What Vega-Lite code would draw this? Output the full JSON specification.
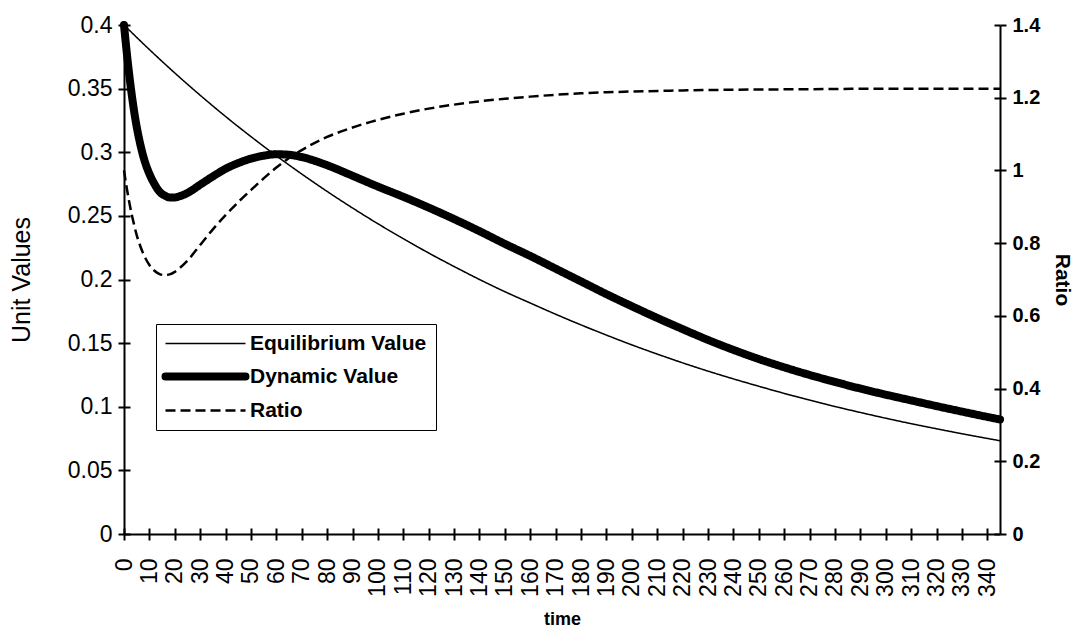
{
  "$schema": "https://vega.github.io/schema/vega-lite/v6.json",
  "width": 876,
  "height": 509,
  "autosize": {"type": "none"},
  "padding": {"left": 124, "top": 25, "right": 82, "bottom": 98},
  "background": "white",
  "config": {
    "view": {"stroke": null},
    "font": "Liberation Sans",
    "axis": {
      "domainColor": "black", "domainWidth": 2, "tickColor": "black", "tickWidth": 2, "tickSize": 6,
      "labelColor": "black", "titleColor": "black", "grid": false,
      "labelFont": "Liberation Sans", "titleFont": "Liberation Sans"
    },
    "legend": {
      "orient": "none", "legendX": 32, "legendY": 299,
      "symbolType": "M-1,0H7", "symbolSize": 400, "labelOffset": 64,
      "symbolStrokeColor": "black",
      "labelFontSize": 21, "labelFontWeight": "bold", "labelColor": "black", "labelFont": "Liberation Sans",
      "labelLimit": 400, "padding": 9, "rowPadding": 6,
      "strokeColor": "black", "fillColor": "white"
    }
  },
  "datasets": {
    "unit": [
      {"t": 0, "series": "Equilibrium Value", "value": 0.4},
      {"t": 10, "series": "Equilibrium Value", "value": 0.3807},
      {"t": 20, "series": "Equilibrium Value", "value": 0.3623},
      {"t": 30, "series": "Equilibrium Value", "value": 0.3448},
      {"t": 40, "series": "Equilibrium Value", "value": 0.3281},
      {"t": 50, "series": "Equilibrium Value", "value": 0.3123},
      {"t": 60, "series": "Equilibrium Value", "value": 0.2972},
      {"t": 70, "series": "Equilibrium Value", "value": 0.2829},
      {"t": 80, "series": "Equilibrium Value", "value": 0.2692},
      {"t": 90, "series": "Equilibrium Value", "value": 0.2562},
      {"t": 100, "series": "Equilibrium Value", "value": 0.2438},
      {"t": 110, "series": "Equilibrium Value", "value": 0.2321},
      {"t": 120, "series": "Equilibrium Value", "value": 0.2208},
      {"t": 130, "series": "Equilibrium Value", "value": 0.2102},
      {"t": 140, "series": "Equilibrium Value", "value": 0.2},
      {"t": 150, "series": "Equilibrium Value", "value": 0.1904},
      {"t": 160, "series": "Equilibrium Value", "value": 0.1815},
      {"t": 170, "series": "Equilibrium Value", "value": 0.1727},
      {"t": 180, "series": "Equilibrium Value", "value": 0.1643},
      {"t": 190, "series": "Equilibrium Value", "value": 0.1563},
      {"t": 200, "series": "Equilibrium Value", "value": 0.1486},
      {"t": 210, "series": "Equilibrium Value", "value": 0.1414},
      {"t": 220, "series": "Equilibrium Value", "value": 0.1345},
      {"t": 230, "series": "Equilibrium Value", "value": 0.128},
      {"t": 240, "series": "Equilibrium Value", "value": 0.1219},
      {"t": 250, "series": "Equilibrium Value", "value": 0.1161},
      {"t": 260, "series": "Equilibrium Value", "value": 0.1105},
      {"t": 270, "series": "Equilibrium Value", "value": 0.1052},
      {"t": 280, "series": "Equilibrium Value", "value": 0.1002},
      {"t": 290, "series": "Equilibrium Value", "value": 0.0955},
      {"t": 300, "series": "Equilibrium Value", "value": 0.091},
      {"t": 310, "series": "Equilibrium Value", "value": 0.0867},
      {"t": 320, "series": "Equilibrium Value", "value": 0.0827},
      {"t": 330, "series": "Equilibrium Value", "value": 0.0788},
      {"t": 340, "series": "Equilibrium Value", "value": 0.0751},
      {"t": 345, "series": "Equilibrium Value", "value": 0.0733},
      {"t": 0, "series": "Dynamic Value", "value": 0.4},
      {"t": 1, "series": "Dynamic Value", "value": 0.38},
      {"t": 2, "series": "Dynamic Value", "value": 0.362},
      {"t": 3, "series": "Dynamic Value", "value": 0.346},
      {"t": 4, "series": "Dynamic Value", "value": 0.332},
      {"t": 5, "series": "Dynamic Value", "value": 0.32},
      {"t": 6, "series": "Dynamic Value", "value": 0.31},
      {"t": 8, "series": "Dynamic Value", "value": 0.294},
      {"t": 10, "series": "Dynamic Value", "value": 0.283},
      {"t": 12, "series": "Dynamic Value", "value": 0.275},
      {"t": 14, "series": "Dynamic Value", "value": 0.269},
      {"t": 16, "series": "Dynamic Value", "value": 0.266},
      {"t": 18, "series": "Dynamic Value", "value": 0.2645},
      {"t": 20, "series": "Dynamic Value", "value": 0.2645},
      {"t": 22, "series": "Dynamic Value", "value": 0.2655},
      {"t": 25, "series": "Dynamic Value", "value": 0.268},
      {"t": 30, "series": "Dynamic Value", "value": 0.2745},
      {"t": 35, "series": "Dynamic Value", "value": 0.281},
      {"t": 40, "series": "Dynamic Value", "value": 0.287},
      {"t": 45, "series": "Dynamic Value", "value": 0.2915},
      {"t": 50, "series": "Dynamic Value", "value": 0.295},
      {"t": 55, "series": "Dynamic Value", "value": 0.2973},
      {"t": 60, "series": "Dynamic Value", "value": 0.2984},
      {"t": 65, "series": "Dynamic Value", "value": 0.298},
      {"t": 70, "series": "Dynamic Value", "value": 0.2962},
      {"t": 80, "series": "Dynamic Value", "value": 0.2898},
      {"t": 90, "series": "Dynamic Value", "value": 0.2815},
      {"t": 100, "series": "Dynamic Value", "value": 0.273},
      {"t": 110, "series": "Dynamic Value", "value": 0.265},
      {"t": 120, "series": "Dynamic Value", "value": 0.2565},
      {"t": 130, "series": "Dynamic Value", "value": 0.2475},
      {"t": 140, "series": "Dynamic Value", "value": 0.238},
      {"t": 150, "series": "Dynamic Value", "value": 0.228},
      {"t": 160, "series": "Dynamic Value", "value": 0.2185},
      {"t": 170, "series": "Dynamic Value", "value": 0.2085},
      {"t": 180, "series": "Dynamic Value", "value": 0.1985},
      {"t": 190, "series": "Dynamic Value", "value": 0.1885},
      {"t": 200, "series": "Dynamic Value", "value": 0.179},
      {"t": 210, "series": "Dynamic Value", "value": 0.1698},
      {"t": 220, "series": "Dynamic Value", "value": 0.161},
      {"t": 230, "series": "Dynamic Value", "value": 0.1525},
      {"t": 240, "series": "Dynamic Value", "value": 0.1447},
      {"t": 250, "series": "Dynamic Value", "value": 0.1375},
      {"t": 260, "series": "Dynamic Value", "value": 0.131},
      {"t": 270, "series": "Dynamic Value", "value": 0.125},
      {"t": 280, "series": "Dynamic Value", "value": 0.1195},
      {"t": 290, "series": "Dynamic Value", "value": 0.1143},
      {"t": 300, "series": "Dynamic Value", "value": 0.1095},
      {"t": 310, "series": "Dynamic Value", "value": 0.105},
      {"t": 320, "series": "Dynamic Value", "value": 0.1005},
      {"t": 330, "series": "Dynamic Value", "value": 0.0962},
      {"t": 340, "series": "Dynamic Value", "value": 0.092},
      {"t": 345, "series": "Dynamic Value", "value": 0.09}
    ],
    "ratio": [
      {"t": 0, "series": "Ratio", "ratio": 1.0},
      {"t": 1, "series": "Ratio", "ratio": 0.955},
      {"t": 2, "series": "Ratio", "ratio": 0.915},
      {"t": 3, "series": "Ratio", "ratio": 0.88},
      {"t": 4, "series": "Ratio", "ratio": 0.85},
      {"t": 5, "series": "Ratio", "ratio": 0.822},
      {"t": 6, "series": "Ratio", "ratio": 0.8},
      {"t": 8, "series": "Ratio", "ratio": 0.765},
      {"t": 10, "series": "Ratio", "ratio": 0.74},
      {"t": 12, "series": "Ratio", "ratio": 0.724},
      {"t": 14, "series": "Ratio", "ratio": 0.715},
      {"t": 16, "series": "Ratio", "ratio": 0.712},
      {"t": 18, "series": "Ratio", "ratio": 0.714},
      {"t": 20, "series": "Ratio", "ratio": 0.721},
      {"t": 22, "series": "Ratio", "ratio": 0.732},
      {"t": 25, "series": "Ratio", "ratio": 0.752},
      {"t": 30, "series": "Ratio", "ratio": 0.795},
      {"t": 35, "series": "Ratio", "ratio": 0.838},
      {"t": 40, "series": "Ratio", "ratio": 0.877},
      {"t": 45, "series": "Ratio", "ratio": 0.913},
      {"t": 50, "series": "Ratio", "ratio": 0.946},
      {"t": 55, "series": "Ratio", "ratio": 0.978},
      {"t": 60, "series": "Ratio", "ratio": 1.008},
      {"t": 65, "series": "Ratio", "ratio": 1.034},
      {"t": 70, "series": "Ratio", "ratio": 1.056},
      {"t": 80, "series": "Ratio", "ratio": 1.092},
      {"t": 90, "series": "Ratio", "ratio": 1.118},
      {"t": 100, "series": "Ratio", "ratio": 1.139},
      {"t": 110, "series": "Ratio", "ratio": 1.156},
      {"t": 120, "series": "Ratio", "ratio": 1.17},
      {"t": 130, "series": "Ratio", "ratio": 1.181},
      {"t": 140, "series": "Ratio", "ratio": 1.19},
      {"t": 150, "series": "Ratio", "ratio": 1.197},
      {"t": 160, "series": "Ratio", "ratio": 1.203},
      {"t": 170, "series": "Ratio", "ratio": 1.208},
      {"t": 180, "series": "Ratio", "ratio": 1.212},
      {"t": 190, "series": "Ratio", "ratio": 1.215},
      {"t": 200, "series": "Ratio", "ratio": 1.217},
      {"t": 220, "series": "Ratio", "ratio": 1.22},
      {"t": 240, "series": "Ratio", "ratio": 1.222},
      {"t": 260, "series": "Ratio", "ratio": 1.223},
      {"t": 280, "series": "Ratio", "ratio": 1.224},
      {"t": 300, "series": "Ratio", "ratio": 1.225},
      {"t": 320, "series": "Ratio", "ratio": 1.225},
      {"t": 345, "series": "Ratio", "ratio": 1.225}
    ]
  },
  "layer": [
    {
      "data": {"name": "unit"},
      "mark": {"type": "line", "interpolate": "monotone", "strokeCap": "round", "strokeJoin": "round"},
      "encoding": {
        "x": {
          "field": "t", "type": "quantitative",
          "scale": {"domain": [0, 345], "nice": false},
          "axis": {
            "orient": "bottom",
            "values": [0,10,20,30,40,50,60,70,80,90,100,110,120,130,140,150,160,170,180,190,200,210,220,230,240,250,260,270,280,290,300,310,320,330,340],
            "title": "time", "labelAngle": 270, "labelFontSize": 23, "labelPadding": 18,
            "titleFontSize": 18, "titleFontWeight": "bold", "titlePadding": 14, "labelOverlap": false
          }
        },
        "y": {
          "field": "value", "type": "quantitative",
          "scale": {"domain": [0, 0.4], "nice": false},
          "axis": {
            "orient": "left",
            "values": [0,0.05,0.1,0.15,0.2,0.25,0.3,0.35,0.4], "format": "~g",
            "title": "Unit Values", "labelFontSize": 23, "labelPadding": 6,
            "titleFontSize": 25, "titleFontWeight": "normal", "titlePadding": 33
          }
        },
        "color": {"field": "series", "type": "nominal", "title": null,
          "scale": {"domain": ["Equilibrium Value", "Dynamic Value", "Ratio"], "range": ["black", "black", "black"]},
          "legend": {
            "encode": {
              "symbols": {
                "update": {
                  "stroke": {"value": "black"},
                  "strokeWidth": {"signal": "datum.value === 'Dynamic Value' ? 8 : (datum.value === 'Ratio' ? 2.5 : 1.5)"},
                  "strokeDash": {"signal": "datum.value === 'Ratio' ? [18, 11] : [1, 0]"},
                  "strokeCap": {"signal": "datum.value === 'Dynamic Value' ? 'round' : 'butt'"}
                }
              }
            }
          }
        },
        "strokeWidth": {"field": "series", "type": "nominal", "legend": null,
          "scale": {"type": "ordinal", "domain": ["Equilibrium Value", "Dynamic Value", "Ratio"], "range": [1.5, 8, 2]}},
        "strokeDash": {"field": "series", "type": "nominal", "legend": null,
          "scale": {"domain": ["Equilibrium Value", "Dynamic Value", "Ratio"], "range": [[1, 0], [1, 0], [10, 5]]}}
      }
    },
    {
      "data": {"name": "ratio"},
      "mark": {"type": "line", "interpolate": "monotone"},
      "encoding": {
        "x": {"field": "t", "type": "quantitative", "axis": null},
        "y": {
          "field": "ratio", "type": "quantitative",
          "scale": {"domain": [0, 1.4], "nice": false},
          "axis": {
            "orient": "right", "values": [0,0.2,0.4,0.6,0.8,1,1.2,1.4], "format": "~g",
            "title": "Ratio", "labelFontSize": 20, "labelFontWeight": "bold", "labelPadding": 6,
            "titleFontSize": 21, "titleFontWeight": "bold", "titlePadding": 12
          }
        },
        "color": {"field": "series", "type": "nominal", "title": null},
        "strokeWidth": {"field": "series", "type": "nominal", "legend": null},
        "strokeDash": {"field": "series", "type": "nominal", "legend": null}
      }
    },
    {
      "data": {"name": "unit"},
      "mark": {"type": "point", "opacity": 0},
      "encoding": {
        "x": {"field": "t", "type": "quantitative",
          "axis": {"orient": "bottom", "values": [0,10,20,30,40,50,60,70,80,90,100,110,120,130,140,150,160,170,180,190,200,210,220,230,240,250,260,270,280,290,300,310,320,330,340],
            "labels": false, "domain": false, "tickSize": -6, "title": null}},
        "y": {"field": "value", "type": "quantitative",
          "scale": {"domain": [0, 0.4], "nice": false},
          "axis": {"orient": "left", "values": [0,0.05,0.1,0.15,0.2,0.25,0.3,0.35,0.4],
            "labels": false, "domain": false, "tickSize": -6, "title": null}}
      }
    },
    {
      "data": {"name": "ratio"},
      "mark": {"type": "point", "opacity": 0},
      "encoding": {
        "x": {"field": "t", "type": "quantitative", "axis": null},
        "y": {"field": "ratio", "type": "quantitative",
          "scale": {"domain": [0, 1.4], "nice": false},
          "axis": {"orient": "right", "values": [0,0.2,0.4,0.6,0.8,1,1.2,1.4],
            "labels": false, "domain": false, "tickSize": -6, "title": null}}
      }
    }
  ],
  "resolve": {"scale": {"y": "independent"}, "axis": {"x": "independent", "y": "independent"}}
}
